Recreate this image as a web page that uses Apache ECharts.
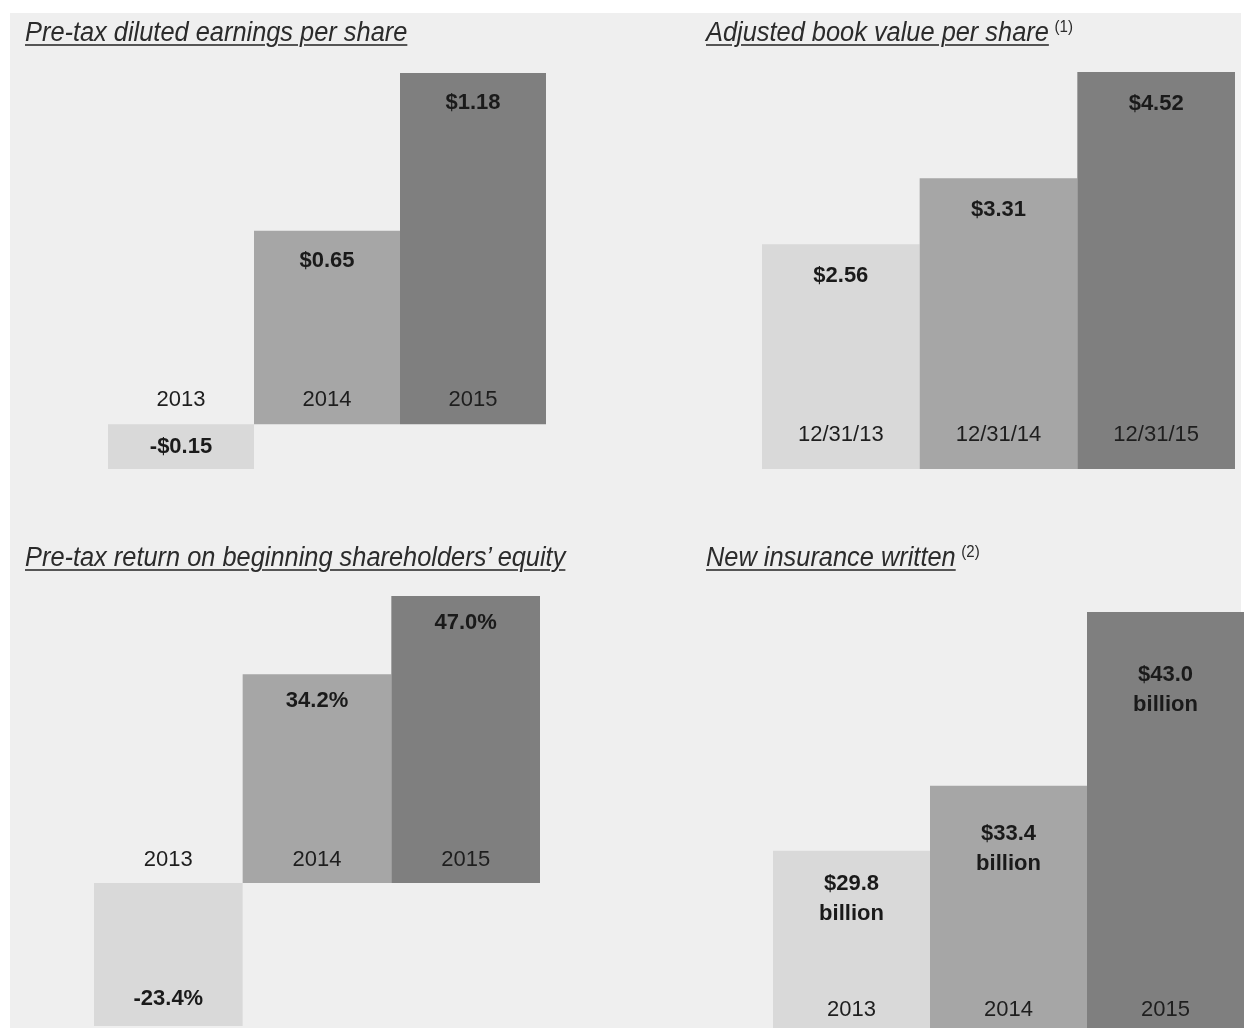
<!DOCTYPE html>
<html>
<head>
<meta charset="utf-8">
<script src="https://cdn.jsdelivr.net/npm/echarts@6/dist/echarts.min.js"></script>
<style>
  html, body { margin: 0; padding: 0; background: #fff; }
  #wrap { position: relative; width: 1244px; height: 1028px; overflow: hidden; }
  #paper { position: absolute; left: 10px; top: 13px; right: 3px; bottom: 0; background: #efefef; }
  #chart { position: absolute; left: 0; top: 0; width: 1244px; height: 1028px; }
  .ttl {
    position: absolute; font-family: 'Liberation Sans', Arial, sans-serif;
    font-style: italic; font-size: 27px; line-height: 28px; color: #2b2b2b; white-space: nowrap;
    transform: scaleX(0.94); transform-origin: 0 50%;
  }
  .ttl span { text-decoration: underline; text-decoration-color: #555; text-decoration-thickness: 2px; text-underline-offset: 3px; }
  .ttl sup { font-style: normal; font-size: 16px; line-height: 0; vertical-align: baseline; position: relative; top: -9px; margin-left: 6px; }
</style>
</head>
<body>
<div id="wrap">
  <div id="paper"></div>
  <div id="chart"></div>
  <div class="ttl" style="left:25px;top:18px"><span>Pre-tax diluted earnings per share</span></div>
  <div class="ttl" style="left:706px;top:18px"><span>Adjusted book value per share</span><sup>(1)</sup></div>
  <div class="ttl" style="left:25px;top:543px"><span>Pre-tax return on beginning shareholders’ equity</span></div>
  <div class="ttl" style="left:706px;top:543px"><span>New insurance written</span><sup>(2)</sup></div>
</div>
<script>
// values
var years = ['2013', '2014', '2015']
var bookDates = ['12/31/13', '12/31/14', '12/31/15']
var epsValues = [-0.15, 0.65, 1.18]          // pre-tax diluted EPS, $
var bookValues = [2.56, 3.31, 4.52]          // adjusted book value per share, $
var roeValues = [-23.4, 34.2, 47.0]          // pre-tax ROE, %
var niwValues = [29.8, 33.4, 43.0]           // new insurance written, $ billion
var niwAxisFloor = 20                        // the picture is cut off here

var barShades = ['#d9d9d9', '#a6a6a6', '#7f7f7f']
var niwLabelPad = [18, 33, 48]
var sans = "'Liberation Sans', Arial, sans-serif"

var grids = [
  { left: 108, top: 73, width: 438, height: 396 },
  { left: 762, top: 72, width: 473, height: 397 },
  { left: 94, top: 596, width: 446, height: 430 },
  { left: 773, top: 612, width: 471, height: 416 }
]

function xAxisFor(idx, cats) {
  return {
    type: 'category', gridIndex: idx, data: cats,
    axisLine: { show: false }, axisTick: { show: false }, splitLine: { show: false },
    axisLabel: { show: false }
  }
}
function yAxisFor(idx, min) {
  return {
    type: 'value', gridIndex: idx, min: min, max: 'dataMax', show: false,
    splitLine: { show: false }
  }
}
function barsFor(idx, values, fmt, negPos, pads, dist) {
  return {
    type: 'bar', xAxisIndex: idx, yAxisIndex: idx,
    barCategoryGap: 0, barGap: 0,
    data: values.map(function (v, i) {
      return {
        value: v,
        itemStyle: { color: barShades[i] },
        label: { position: v < 0 ? negPos : 'insideTop', distance: pads ? pads[i] : dist }
      }
    }),
    label: {
      show: true, color: '#1a1a1a', fontFamily: sans, fontWeight: 'bold', fontSize: 22, lineHeight: 30,
      formatter: function (p) { return fmt(p.value) }
    },
    silent: true
  }
}
// category names sit on the baseline of each panel
function catLabelsFor(idx, cats, base, dist) {
  return {
    type: 'scatter', xAxisIndex: idx, yAxisIndex: idx, z: 5,
    symbolSize: 0, silent: true, clip: false,
    itemStyle: { opacity: 1 },
    data: cats.map(function (c) { return [c, base] }),
    label: {
      show: true, position: 'top', distance: dist,
      color: '#1e1e1e', fontFamily: sans, fontSize: 22, lineHeight: 24,
      formatter: function (p) { return p.name || p.value[0] }
    }
  }
}

var option = {
  animation: false,
  backgroundColor: 'transparent',
  grid: grids,
  xAxis: [
    xAxisFor(0, years),
    xAxisFor(1, bookDates),
    xAxisFor(2, years),
    xAxisFor(3, years)
  ],
  yAxis: [
    yAxisFor(0, 'dataMin'),
    yAxisFor(1, 0),
    yAxisFor(2, 'dataMin'),
    yAxisFor(3, niwAxisFloor)
  ],
  series: [
    barsFor(0, epsValues, function (v) { return (v < 0 ? '-$' : '$') + Math.abs(v).toFixed(2) }, 'inside', null, 15),
    barsFor(1, bookValues, function (v) { return '$' + v.toFixed(2) }, 'inside', null, 17),
    barsFor(2, roeValues, function (v) { return v.toFixed(1) + '%' }, 'insideBottom', null, 12),
    barsFor(3, niwValues, function (v) { return '$' + v.toFixed(1) + '\nbillion' }, 'inside', niwLabelPad, 0),
    catLabelsFor(0, years, 0, 12),
    catLabelsFor(1, bookDates, 0, 22),
    catLabelsFor(2, years, 0, 11),
    catLabelsFor(3, years, niwAxisFloor, 6)
  ]
}

var chart = echarts.init(document.getElementById('chart'))
chart.setOption(option)
window.addEventListener('resize', function () { chart.resize() })
</script>
</body>
</html>
